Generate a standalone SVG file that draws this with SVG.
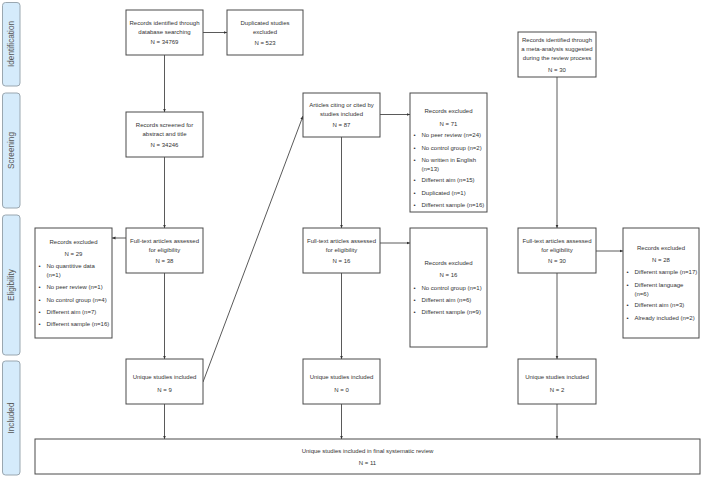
<svg xmlns="http://www.w3.org/2000/svg" width="701" height="477" viewBox="0 0 701 477">
<defs>
<style>
.box{fill:#fff;stroke:#4a4a4a;stroke-width:1}
.side{fill:#d5ebfb;stroke:#9aa7b0;stroke-width:1}
.t{font-family:"Liberation Sans",Arial,sans-serif;font-size:6px;fill:#333}
.c{text-anchor:middle}
.s{font-family:"Liberation Sans",Arial,sans-serif;font-size:8.2px;fill:#555;text-anchor:middle}
.ln{fill:none;stroke:#5a5a5a;stroke-width:1;marker-end:url(#ah)}
</style>
<marker id="ah" markerWidth="4" markerHeight="4" refX="3.5" refY="2" orient="auto" markerUnits="userSpaceOnUse">
<path d="M0,0.5 L3.5,2 L0,3.5 Z" fill="#333"/>
</marker>
</defs>
<rect width="701" height="477" fill="#fff"/>

<g id="phases">
<g id="phase-identification"><rect class="side" x="2.5" y="2.5" width="17.5" height="83.5" rx="3"/><text class="s" transform="translate(14,44) rotate(-90)">Identification</text></g>
<g id="phase-screening"><rect class="side" x="2.5" y="93" width="17.5" height="115" rx="3"/><text class="s" transform="translate(14,150.5) rotate(-90)">Screening</text></g>
<g id="phase-eligibility"><rect class="side" x="2.5" y="215" width="17.5" height="140" rx="3"/><text class="s" transform="translate(14,285) rotate(-90)">Eligibility</text></g>
<g id="phase-included"><rect class="side" x="2.5" y="361" width="17.5" height="114" rx="3"/><text class="s" transform="translate(14,418) rotate(-90)">Included</text></g>
</g>

<g id="connectors">
<line class="ln" x1="164.5" y1="55" x2="164.5" y2="112"/>
<line class="ln" x1="203" y1="32.5" x2="227" y2="32.5"/>
<line class="ln" x1="164.5" y1="157" x2="164.5" y2="228"/>
<line class="ln" x1="126" y1="238" x2="112" y2="238"/>
<line class="ln" x1="164.5" y1="273" x2="164.5" y2="359"/>
<line class="ln" x1="203" y1="382" x2="303" y2="116"/>
<line class="ln" x1="380" y1="114.5" x2="410" y2="114.5"/>
<line class="ln" x1="341.5" y1="137" x2="341.5" y2="228"/>
<line class="ln" x1="380" y1="243" x2="410" y2="243"/>
<line class="ln" x1="341.5" y1="273" x2="341.5" y2="359"/>
<line class="ln" x1="557" y1="77" x2="557" y2="228"/>
<line class="ln" x1="596" y1="251" x2="623" y2="251"/>
<line class="ln" x1="557" y1="273" x2="557" y2="359"/>
<line class="ln" x1="164.5" y1="404" x2="164.5" y2="439"/>
<line class="ln" x1="341.5" y1="404" x2="341.5" y2="439"/>
<line class="ln" x1="557" y1="404" x2="557" y2="439"/>
</g>

<g id="n-identified">
<rect class="box" x="126" y="10" width="77" height="45"/>
<text class="t c" x="164.5" y="24.8">Records identified through</text>
<text class="t c" x="164.5" y="33.6">database searching</text>
<text class="t c" x="164.5" y="44.3">N = 34769</text>
</g>

<g id="n-duplicated">
<rect class="box" x="227" y="10" width="76" height="45"/>
<text class="t c" x="265" y="24.8">Duplicated studies</text>
<text class="t c" x="265" y="33.8">excluded</text>
<text class="t c" x="265" y="44.5">N = 523</text>
</g>

<g id="n-screened">
<rect class="box" x="126" y="112" width="77" height="45"/>
<text class="t c" x="164.5" y="126.5">Records screened for</text>
<text class="t c" x="164.5" y="135.5">abstract and title</text>
<text class="t c" x="164.5" y="146.8">N = 34246</text>
</g>

<g id="n-citing">
<rect class="box" x="303" y="93" width="77" height="44"/>
<text class="t c" x="341.5" y="107.2">Articles citing or cited by</text>
<text class="t c" x="341.5" y="116.2">studies included</text>
<text class="t c" x="341.5" y="126.5">N = 87</text>
</g>

<g id="n-excluded71">
<rect class="box" x="410" y="93" width="77" height="119"/>
<text class="t c" x="448.5" y="112.9">Records excluded</text>
<text class="t c" x="448.5" y="125.5">N = 71</text>
<g class="t">
<text x="413.5" y="137.2">•</text><text x="421.5" y="137.2">No peer review (n=24)</text>
<text x="413.5" y="149.9">•</text><text x="421.5" y="149.9">No control group (n=2)</text>
<text x="413.5" y="162.2">•</text><text x="421.5" y="162.2">No written in English</text>
<text x="421.5" y="171.2">(n=13)</text>
<text x="413.5" y="182.2">•</text><text x="421.5" y="182.2">Different aim (n=15)</text>
<text x="413.5" y="194.7">•</text><text x="421.5" y="194.7">Duplicated (n=1)</text>
<text x="413.5" y="207.2">•</text><text x="421.5" y="207.2">Different sample (n=16)</text>
</g>
</g>

<g id="n-meta">
<rect class="box" x="518" y="32" width="78" height="45"/>
<text class="t c" x="557" y="42.2">Records identified through</text>
<text class="t c" x="557" y="51.2">a meta-analysis suggested</text>
<text class="t c" x="557" y="59.5">during the review process</text>
<text class="t c" x="557" y="72.2">N = 30</text>
</g>

<g id="n-excluded29">
<rect class="box" x="35" y="228" width="77" height="110"/>
<text class="t c" x="73.5" y="243.9">Records excluded</text>
<text class="t c" x="73.5" y="255.5">N = 29</text>
<g class="t">
<text x="38.5" y="268.2">•</text><text x="46.5" y="268.2">No quantitive data</text>
<text x="46.5" y="277.2">(n=1)</text>
<text x="38.5" y="289.2">•</text><text x="46.5" y="289.2">No peer review (n=1)</text>
<text x="38.5" y="301.5">•</text><text x="46.5" y="301.5">No control group (n=4)</text>
<text x="38.5" y="313.5">•</text><text x="46.5" y="313.5">Different aim (n=7)</text>
<text x="38.5" y="325.5">•</text><text x="46.5" y="325.5">Different sample (n=16)</text>
</g>
</g>

<g id="n-fulltext38">
<rect class="box" x="126" y="228" width="77" height="45"/>
<text class="t c" x="164.5" y="243.2">Full-text articles assessed</text>
<text class="t c" x="164.5" y="252.2">for eligibility</text>
<text class="t c" x="164.5" y="263.2">N = 38</text>
</g>

<g id="n-fulltext16">
<rect class="box" x="303" y="228" width="77" height="45"/>
<text class="t c" x="341.5" y="243.2">Full-text articles assessed</text>
<text class="t c" x="341.5" y="252.2">for eligibility</text>
<text class="t c" x="341.5" y="263.2">N = 16</text>
</g>

<g id="n-excluded16">
<rect class="box" x="410" y="228" width="77" height="119"/>
<text class="t c" x="448.5" y="264.9">Records excluded</text>
<text class="t c" x="448.5" y="276.5">N = 16</text>
<g class="t">
<text x="413.5" y="289.5">•</text><text x="421.5" y="289.5">No control group (n=1)</text>
<text x="413.5" y="301.5">•</text><text x="421.5" y="301.5">Different aim (n=6)</text>
<text x="413.5" y="313.5">•</text><text x="421.5" y="313.5">Different sample (n=9)</text>
</g>
</g>

<g id="n-fulltext30">
<rect class="box" x="518" y="228" width="78" height="45"/>
<text class="t c" x="557" y="243.2">Full-text articles assessed</text>
<text class="t c" x="557" y="252.2">for eligibility</text>
<text class="t c" x="557" y="263.2">N = 30</text>
</g>

<g id="n-excluded28">
<rect class="box" x="623" y="228" width="76" height="110"/>
<text class="t c" x="661" y="249.5">Records excluded</text>
<text class="t c" x="661" y="262.2">N = 28</text>
<g class="t">
<text x="626.5" y="273.9">•</text><text x="634.5" y="273.9">Different sample (n=17)</text>
<text x="626.5" y="286.5">•</text><text x="634.5" y="286.5">Different language</text>
<text x="634.5" y="295.5">(n=6)</text>
<text x="626.5" y="307.2">•</text><text x="634.5" y="307.2">Different aim (n=3)</text>
<text x="626.5" y="319.5">•</text><text x="634.5" y="319.5">Already included (n=2)</text>
</g>
</g>

<g id="n-unique9">
<rect class="box" x="126" y="359" width="77" height="45"/>
<text class="t c" x="164.5" y="378.9">Unique studies included</text>
<text class="t c" x="164.5" y="391.5">N = 9</text>
</g>

<g id="n-unique0">
<rect class="box" x="303" y="359" width="77" height="45"/>
<text class="t c" x="341.5" y="378.9">Unique studies included</text>
<text class="t c" x="341.5" y="391.5">N = 0</text>
</g>

<g id="n-unique2">
<rect class="box" x="518" y="359" width="78" height="45"/>
<text class="t c" x="557" y="378.9">Unique studies included</text>
<text class="t c" x="557" y="391.5">N = 2</text>
</g>

<g id="n-final">
<rect class="box" x="35" y="439" width="665" height="35"/>
<text class="t c" x="367.5" y="452.9">Unique studies included in final systematic review</text>
<text class="t c" x="367.5" y="464.9">N = 11</text>
</g>
</svg>
